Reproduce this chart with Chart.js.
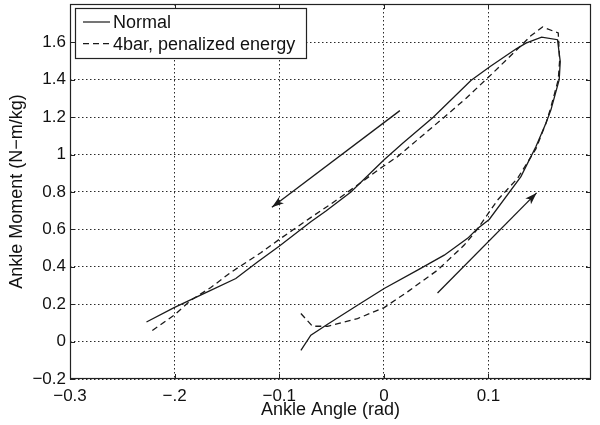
<!DOCTYPE html>
<html>
<head>
<meta charset="utf-8">
<script src="https://cdn.jsdelivr.net/npm/chart.js@4/dist/chart.umd.min.js"></script>
<style>
  html, body { margin: 0; padding: 0; background: #fff; }
  #wrap { width: 600px; height: 425px; }
</style>
</head>
<body>
<div id="wrap"><canvas id="c" width="600" height="425"></canvas></div>
<script>
// ---- data ----
const seriesNames = ['Normal', '4bar, penalized energy'];

const normalX = [-0.0793, -0.0698, -0.0538, -0.0252, 0.0003, 0.0322, 0.0577, 0.080, 0.0896, 0.1007, 0.131, 0.1453, 0.1549, 0.1597, 0.1676, 0.1686, 0.166, 0.1508, 0.1358, 0.1262, 0.1016, 0.0832, 0.0472, 0.018, 0.0, -0.0315, -0.055, -0.0698, -0.1001, -0.1208, -0.1415, -0.1686, -0.2005, -0.2269];
const normalY = [-0.047, 0.034, 0.093, 0.194, 0.284, 0.382, 0.462, 0.552, 0.605, 0.653, 0.882, 1.042, 1.168, 1.239, 1.400, 1.498, 1.614, 1.628, 1.596, 1.564, 1.471, 1.396, 1.200, 1.061, 0.971, 0.800, 0.700, 0.641, 0.510, 0.426, 0.337, 0.266, 0.182, 0.105];

const fourBarX = [-0.0793, -0.0682, -0.0538, -0.0252, 0.0003, 0.0226, 0.0513, 0.0768, 0.0893, 0.1087, 0.1278, 0.1453, 0.155, 0.159, 0.1667, 0.168, 0.1667, 0.1517, 0.1405, 0.131, 0.1023, 0.0784, 0.0577, 0.0131, -0.0012, -0.0252, -0.0507, -0.071, -0.1001, -0.1176, -0.1463, -0.1654, -0.1845, -0.2005, -0.2234];
const fourBarY = [0.150, 0.082, 0.082, 0.123, 0.182, 0.266, 0.382, 0.516, 0.600, 0.757, 0.873, 1.030, 1.168, 1.240, 1.400, 1.500, 1.650, 1.682, 1.635, 1.582, 1.426, 1.300, 1.200, 0.989, 0.935, 0.837, 0.735, 0.659, 0.546, 0.475, 0.370, 0.289, 0.221, 0.141, 0.051];

// direction arrows (start -> tip)
const arrowDownX = [0.0153, -0.107];
const arrowDownY = [1.235, 0.718];
const arrowUpX = [0.0513, 0.146];
const arrowUpY = [0.260, 0.795];

const xTicks = [-0.3, -0.2, -0.1, 0, 0.1];
const xTickLabels = ['\u22120.3', '\u2212.2', '\u22120.1', '0', '0.1'];
const yTicks = [-0.2, 0, 0.2, 0.4, 0.6, 0.8, 1, 1.2, 1.4, 1.6];
const yTickLabels = ['\u22120.2', '0', '0.2', '0.4', '0.6', '0.8', '1', '1.2', '1.4', '1.6'];
const xRange = [-0.3, 0.198];
const yRange = [-0.2, 1.805];
const xTitle = 'Ankle Angle (rad)';
const yTitle = 'Ankle Moment (N\u2212m/kg)';

// ---- build ----
const pts = (xs, ys) => xs.map((x, i) => ({ x: x, y: ys[i] }));
const INK = '#1a1a1a';
const FONT = "'Liberation Sans', Arial, Helvetica, sans-serif";

Chart.defaults.font.family = FONT;
Chart.defaults.color = '#111';

const framePlugin = {
  id: 'matlabFrame',
  afterDatasetsDraw(chart) {
    const { ctx, chartArea: a, scales } = chart;
    ctx.save();
    // arrowheads
    chart.data.datasets.forEach((ds, i) => {
      if (!ds.arrow) return;
      const m = chart.getDatasetMeta(i).data;
      const p1 = m[m.length - 2], p2 = m[m.length - 1];
      const ang = Math.atan2(p2.y - p1.y, p2.x - p1.x);
      const L = 12, W = 4;
      ctx.save();
      ctx.translate(p2.x, p2.y);
      ctx.rotate(ang);
      ctx.beginPath();
      ctx.moveTo(0, 0);
      ctx.lineTo(-L, -W);
      ctx.lineTo(-L + 3, 0);
      ctx.lineTo(-L, W);
      ctx.closePath();
      ctx.fillStyle = INK;
      ctx.fill();
      ctx.restore();
    });
    // frame
    ctx.strokeStyle = '#222';
    ctx.lineWidth = 1.2;
    ctx.strokeRect(a.left + 0.5, a.top + 0.5, a.right - a.left - 1, a.bottom - a.top - 1);
    // inward tick marks on all sides
    const tl = 5;
    ctx.lineWidth = 1;
    ctx.beginPath();
    xTicks.forEach(v => {
      const px = Math.round(scales.x.getPixelForValue(v)) + 0.5;
      ctx.moveTo(px, a.bottom); ctx.lineTo(px, a.bottom - tl);
      ctx.moveTo(px, a.top); ctx.lineTo(px, a.top + tl);
    });
    yTicks.forEach(v => {
      const py = Math.round(scales.y.getPixelForValue(v)) + 0.5;
      ctx.moveTo(a.left, py); ctx.lineTo(a.left + tl, py);
      ctx.moveTo(a.right, py); ctx.lineTo(a.right - tl, py);
    });
    ctx.stroke();
    // legend box
    const bx = a.left + 5.5, by = a.top + 4.5, bw = 231, bh = 50;
    ctx.fillStyle = '#fff';
    ctx.fillRect(bx, by, bw, bh);
    ctx.strokeStyle = '#222';
    ctx.lineWidth = 1.2;
    ctx.strokeRect(bx, by, bw, bh);
    const rows = chart.data.datasets.filter(d => !d.arrow);
    rows.forEach((ds, k) => {
      const cy = by + 13.5 + k * 21.6;
      ctx.beginPath();
      ctx.setLineDash(ds.borderDash || []);
      ctx.strokeStyle = INK;
      ctx.lineWidth = 1.2;
      ctx.moveTo(bx + 7.5, cy);
      ctx.lineTo(bx + 34.5, cy);
      ctx.stroke();
      ctx.setLineDash([]);
      ctx.fillStyle = '#111';
      ctx.font = '18px ' + FONT;
      ctx.textBaseline = 'middle';
      ctx.textAlign = 'left';
      ctx.fillText(ds.label, bx + 37.5, cy + 1);
    });
    ctx.restore();
  }
};

const lineStyle = { showLine: true, pointRadius: 0, pointHoverRadius: 0, borderColor: INK, borderWidth: 1.3, tension: 0, fill: false };

const noPad = s => { s.paddingTop = 0; s.paddingBottom = 0; s.paddingLeft = 0; s.paddingRight = 0; };

new Chart(document.getElementById('c'), {
  type: 'scatter',
  data: {
    datasets: [
      Object.assign({ label: seriesNames[0], data: pts(normalX, normalY) }, lineStyle),
      Object.assign({ label: seriesNames[1], data: pts(fourBarX, fourBarY), borderDash: [6, 4] }, lineStyle),
      Object.assign({ label: '', arrow: true, data: pts(arrowDownX, arrowDownY) }, lineStyle),
      Object.assign({ label: '', arrow: true, data: pts(arrowUpX, arrowUpY) }, lineStyle)
    ]
  },
  options: {
    responsive: false,
    animation: false,
    events: [],
    layout: { padding: { top: 4, right: 9, left: 0, bottom: 0 } },
    plugins: { legend: { display: false }, tooltip: { enabled: false } },
    scales: {
      x: {
        type: 'linear',
        min: xRange[0], max: xRange[1],
        afterBuildTicks: s => { s.ticks = xTicks.map(v => ({ value: v })); },
        afterFit: s => { s.height = 46; noPad(s); },
        grid: { color: '#2a2a2a', lineWidth: 1, drawTicks: false },
        border: { display: false, dash: [1.5, 2.5] },
        ticks: {
          padding: 7,
          maxRotation: 0,
          autoSkip: false,
          font: { size: 17 },
          color: '#111',
          callback: v => { const i = xTicks.findIndex(t => Math.abs(t - v) < 1e-9); return i >= 0 ? xTickLabels[i] : ''; }
        },
        title: { display: true, text: xTitle, font: { size: 18 }, color: '#111', padding: { top: 0, bottom: 4 } }
      },
      y: {
        type: 'linear',
        min: yRange[0], max: yRange[1],
        afterBuildTicks: s => { s.ticks = yTicks.map(v => ({ value: v })); },
        afterFit: s => { s.width = 70; noPad(s); },
        grid: { color: '#2a2a2a', lineWidth: 1, drawTicks: false },
        border: { display: false, dash: [1.5, 2.5] },
        ticks: {
          padding: 4,
          autoSkip: false,
          font: { size: 17 },
          color: '#111',
          callback: v => { const i = yTicks.findIndex(t => Math.abs(t - v) < 1e-9); return i >= 0 ? yTickLabels[i] : ''; }
        },
        title: { display: true, text: yTitle, font: { size: 18 }, color: '#111', padding: { top: 6, bottom: 0 } }
      }
    }
  },
  plugins: [framePlugin]
});
</script>
</body>
</html>
